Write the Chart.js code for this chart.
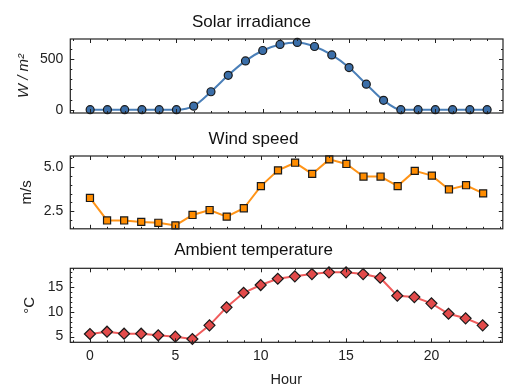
<!DOCTYPE html>
<html>
<head>
<meta charset="utf-8">
<script src="https://cdn.jsdelivr.net/npm/chart.js@4/dist/chart.umd.min.js"></script>
<style>
    html, body { margin: 0; padding: 0; background: #fff; }
    #wrap { position: relative; width: 509px; height: 389px; overflow: hidden; }
    #wrap canvas { position: absolute; left: 0; }
</style>
</head>
<body>
<div id="wrap">
    <canvas id="solar" width="509" height="120" style="top:0px"></canvas>
    <canvas id="wind" width="509" height="115" style="top:120px"></canvas>
    <canvas id="temp" width="509" height="154" style="top:235px"></canvas>
</div>
<script>
// Hourly readings
const hours = [0, 1, 2, 3, 4, 5, 6, 7, 8, 9, 10, 11, 12, 13, 14, 15, 16, 17, 18, 19, 20, 21, 22, 23];
const solarIrradiance = [0, 0, 0, 0, 0, 0, 35, 177, 340, 482, 585, 645, 665, 625, 541, 416, 252, 92, 0, 0, 0, 0, 0, 0];
const windSpeed = [3.25, 1.98, 1.98, 1.90, 1.85, 1.70, 2.29, 2.57, 2.20, 2.67, 3.92, 4.81, 5.24, 4.61, 5.43, 5.17, 4.46, 4.46, 3.92, 4.78, 4.51, 3.73, 3.97, 3.51];
const ambientTemp = [5.52, 5.98, 5.58, 5.58, 5.26, 4.98, 4.51, 7.27, 10.89, 13.83, 15.38, 16.65, 17.13, 17.59, 17.93, 17.93, 17.59, 16.85, 13.23, 12.96, 11.70, 9.60, 8.68, 7.27];

// Tick labels
const hourTicks = [0, 5, 10, 15, 20];
const solarTicks = [0, 500];
const windTicks = [2.5, 5.0];
const tempTicks = [5, 10, 15];

Chart.defaults.font.family = "'Liberation Sans', Arial, sans-serif";
Chart.defaults.color = '#222';

const isMajor = (v, step) => Math.abs(v / step - Math.round(v / step)) < 1e-6;

/**
 * Draws the box around the plot area and matplotlib-style inward ticks
 */
const frameTicks = {
    id: 'frameTicks',
    afterDraw(chart, args, opts) {
        const { ctx, chartArea: a } = chart;
        const x = chart.scales.x, y = chart.scales.y;
        ctx.save();
        ctx.strokeStyle = '#222';
        ctx.lineWidth = 1;
        const seg = (x1, y1, x2, y2) => {
            ctx.beginPath(); ctx.moveTo(x1, y1); ctx.lineTo(x2, y2); ctx.stroke();
        };
        for (let k = Math.ceil(x.min / opts.xMinor); k * opts.xMinor <= x.max; k++) {
            const v = k * opts.xMinor;
            const px = Math.round(x.getPixelForValue(v)) + 0.5;
            const len = isMajor(v, opts.xMajor) ? 4 : 2;
            seg(px, a.bottom, px, a.bottom - len);
            seg(px, a.top, px, a.top + len);
        }
        for (let k = Math.ceil(y.min / opts.yMinor - 1e-9); k * opts.yMinor <= y.max + 1e-9; k++) {
            const v = k * opts.yMinor;
            const py = Math.round(y.getPixelForValue(v)) + 0.5;
            const len = isMajor(v, opts.yMajor) ? 4 : 2;
            seg(a.left, py, a.left + len, py);
            seg(a.right, py, a.right - len, py);
        }
        ctx.lineWidth = 1.2;
        ctx.strokeRect(a.left, a.top, a.right - a.left, a.bottom - a.top);
        ctx.restore();
    }
};

function makePanel(canvasId, cfg) {
    return new Chart(document.getElementById(canvasId), {
        type: 'line',
        data: {
            datasets: [{
                data: hours.map((h, i) => ({ x: h, y: cfg.values[i] })),
                borderColor: cfg.line,
                borderWidth: 2,
                backgroundColor: cfg.fill,
                pointBackgroundColor: cfg.fill,
                pointBorderColor: '#1a1a1a',
                pointBorderWidth: 1.2,
                pointStyle: cfg.marker,
                pointRadius: cfg.radius,
                pointHoverRadius: cfg.radius,
                cubicInterpolationMode: cfg.smooth ? 'monotone' : 'default',
                tension: 0,
                fill: false,
                clip: false
            }]
        },
        options: {
            responsive: false,
            animation: false,
            events: [],
            layout: { padding: { left: 0, right: cfg.padRight, top: 0, bottom: cfg.padBottom } },
            plugins: {
                legend: { display: false },
                tooltip: { enabled: false },
                title: {
                    display: true,
                    text: cfg.title,
                    color: '#111',
                    font: { size: 17, weight: 'normal' },
                    padding: cfg.titlePad
                },
                frameTicks: { xMinor: 1, xMajor: 5, yMinor: cfg.yMinor, yMajor: cfg.yMajor }
            },
            scales: {
                x: {
                    type: 'linear',
                    min: -1.15,
                    max: cfg.xMax,
                    display: cfg.showX,
                    grid: { display: false, drawTicks: false },
                    border: { display: false },
                    ticks: { padding: 5, color: '#222', font: { size: 14 }, maxRotation: 0 },
                    title: {
                        display: cfg.showX,
                        text: 'Hour',
                        color: '#222',
                        font: { size: 14.5 },
                        padding: { top: 0, bottom: 0 }
                    },
                    afterBuildTicks: s => { s.ticks = hourTicks.map(v => ({ value: v })); },
                    afterFit: s => {
                        s.paddingLeft = 0;
                        s.paddingRight = 0;
                        if (cfg.showX) s.height = 46.7;
                    }
                },
                y: {
                    min: cfg.yMin,
                    max: cfg.yMax,
                    grid: { display: false, drawTicks: false },
                    border: { display: false },
                    ticks: { padding: 7, color: '#222', font: { size: 14 }, callback: cfg.fmt },
                    title: {
                        display: true,
                        text: cfg.yTitle,
                        color: '#222',
                        font: { size: 15, style: cfg.yTitleStyle || 'normal' },
                        padding: { top: cfg.yTitleOffset, bottom: 0 }
                    },
                    afterBuildTicks: s => { s.ticks = cfg.ticks.map(v => ({ value: v })); },
                    afterFit: s => {
                        // keep the plot box where the reference has it
                        s.paddingTop = 0;
                        s.paddingBottom = 0;
                        s.width = 70.3;
                    }
                }
            }
        },
        plugins: [frameTicks]
    });
}

makePanel('solar', {
    title: 'Solar irradiance',
    values: solarIrradiance,
    ticks: solarTicks,
    fmt: v => String(v),
    yMin: -33, yMax: 699, yMinor: 100, yMajor: 500,
    yTitle: 'W / m²', yTitleStyle: 'italic', yTitleOffset: 15,
    line: '#4a7fb8', fill: '#3b6ea8', marker: 'circle', radius: 4, smooth: true,
    xMax: 23.92, showX: false,
    padRight: 6, padBottom: 7,
    titlePad: { top: 12.5, bottom: 6.1 }
});

makePanel('wind', {
    title: 'Wind speed',
    values: windSpeed,
    ticks: windTicks,
    fmt: v => v.toFixed(1),
    yMin: 1.51, yMax: 5.62, yMinor: 0.5, yMajor: 2.5,
    yTitle: 'm/s', yTitleOffset: 18,
    line: '#ff9418', fill: '#ff8c00', marker: 'rect', radius: 5, smooth: false,
    xMax: 24.15, showX: false,
    padRight: 2, padBottom: 5,
    titlePad: { top: 9, bottom: 6.6 }
});

makePanel('temp', {
    title: 'Ambient temperature',
    values: ambientTemp,
    ticks: tempTicks,
    fmt: v => String(v),
    yMin: 3.85, yMax: 18.75, yMinor: 1, yMajor: 5,
    yTitle: '°C', yTitleOffset: 21,
    line: '#f05c5c', fill: '#e24a4a', marker: 'rectRot', radius: 5.5, smooth: false,
    xMax: 24.15, showX: true,
    padRight: 2, padBottom: 0,
    titlePad: { top: 5.5, bottom: 7.4 }
});
</script>
</body>
</html>
